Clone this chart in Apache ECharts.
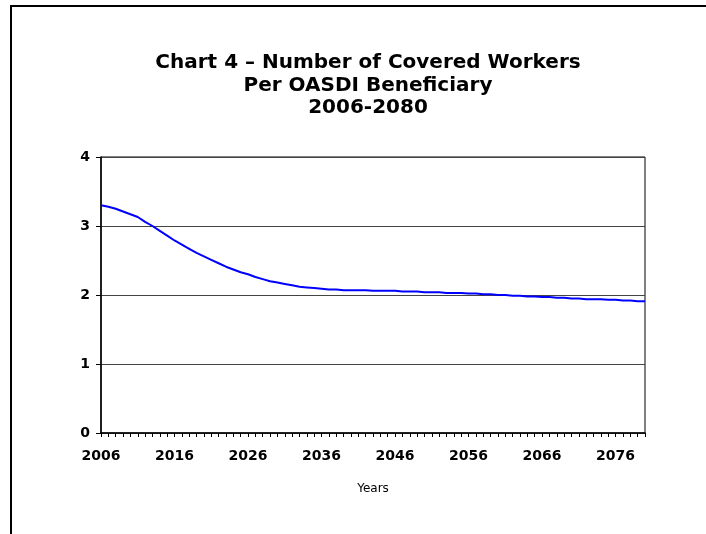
<!DOCTYPE html>
<html>
<head>
<meta charset="utf-8">
<script src="https://cdn.jsdelivr.net/npm/echarts@6/dist/echarts.min.js"></script>
<style>
  html, body { margin: 0; padding: 0; background: #fff; }
  #wrap { position: relative; width: 706px; height: 534px; }
  #chart { position: absolute; left: 0; top: 0; width: 706px; height: 534px; }
  #frame { position: absolute; left: 10px; top: 5px; width: 700px; height: 540px;
           border-top: 2px solid #000; border-left: 2px solid #000; pointer-events: none; }
</style>
</head>
<body>
<div id="wrap">
  <div id="chart"></div>
  <div id="frame"></div>
</div>
<script>
// Covered workers per OASDI beneficiary, annual, 2006-2080
const years = [];
for (let y = 2006; y <= 2080; y++) years.push(String(y));

const workersPerBeneficiary = [
  3.30, 3.28, 3.25, 3.21, 3.17, 3.13, 3.06, 3.00, 2.93, 2.86,
  2.79, 2.73, 2.67, 2.61, 2.56, 2.51, 2.46, 2.41, 2.37, 2.33,
  2.30, 2.26, 2.23, 2.20, 2.18, 2.16, 2.14, 2.12, 2.11, 2.10,
  2.09, 2.08, 2.08, 2.07, 2.07, 2.07, 2.07, 2.06, 2.06, 2.06,
  2.06, 2.05, 2.05, 2.05, 2.04, 2.04, 2.04, 2.03, 2.03, 2.03,
  2.02, 2.02, 2.01, 2.01, 2.00, 2.00, 1.99, 1.99, 1.98, 1.98,
  1.97, 1.97, 1.96, 1.96, 1.95, 1.95, 1.94, 1.94, 1.94, 1.93,
  1.93, 1.92, 1.92, 1.91, 1.91
];

const titleText = 'Chart 4 \u2013 Number of Covered Workers\nPer OASDI Beneficiary\n2006-2080';
const xAxisName = 'Years';

const chart = echarts.init(document.getElementById('chart'), null, { renderer: 'canvas' });
chart.setOption({
  animation: false,
  backgroundColor: '#fff',
  title: {
    text: titleText,
    left: 363,
    top: 47,
    textAlign: 'center',
    textStyle: {
      fontFamily: 'DejaVu Sans',
      fontWeight: 'bold',
      fontSize: 20,
      lineHeight: 22.5,
      color: '#000'
    }
  },
  grid: {
    left: 101, right: 61, top: 157, bottom: 101,
    show: true, borderColor: '#000', borderWidth: 1, backgroundColor: '#fff'
  },
  xAxis: {
    type: 'category',
    data: years,
    boundaryGap: false,
    name: xAxisName,
    nameLocation: 'middle',
    nameGap: 50,
    nameTextStyle: { fontFamily: 'DejaVu Sans', fontSize: 12, color: '#000' },
    axisLine: { lineStyle: { color: '#000', width: 1.5 } },
    axisTick: { show: true, interval: 0, inside: false, length: 4, lineStyle: { color: '#000' } },
    axisLabel: {
      interval: 9, margin: 16,
      fontFamily: 'DejaVu Sans', fontWeight: 'bold', fontSize: 14, color: '#000'
    },
    splitLine: { show: false }
  },
  yAxis: {
    type: 'value',
    min: 0, max: 4, interval: 1,
    axisLine: { show: true, lineStyle: { color: '#000', width: 1.5 } },
    axisTick: { show: true, length: 5, lineStyle: { color: '#000' } },
    axisLabel: {
      margin: 11,
      fontFamily: 'DejaVu Sans', fontWeight: 'bold', fontSize: 14, color: '#000'
    },
    splitLine: { show: true, lineStyle: { color: '#444', width: 1 } }
  },
  series: [{
    type: 'line',
    data: workersPerBeneficiary,
    showSymbol: false,
    symbol: 'none',
    lineStyle: { color: '#0000ff', width: 2 },
    z: 5
  }]
});
</script>
</body>
</html>
